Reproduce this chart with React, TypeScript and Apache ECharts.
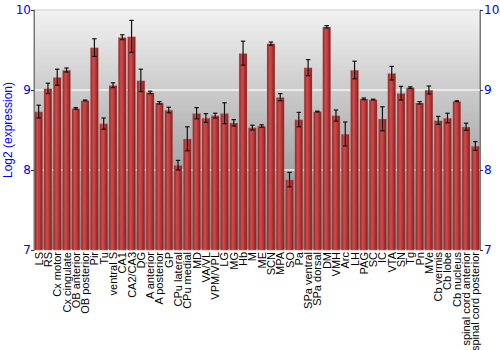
import React, { useEffect, useRef } from "react";
import * as echarts from "echarts";

const categories = [
  "LS", "RS", "Cx motor", "Cx cingulate", "OB anterior", "OB posterior", "Pir", "Tu",
  "ventral S", "CA1", "CA2/CA3", "DG", "A anterior", "A posterior", "GP", "CPu lateral",
  "CPu medial", "MD", "VA/VL", "VPM/VPL", "LG", "MG", "Hb", "M", "ME", "SCN", "MPA",
  "SO", "Pa", "SPa ventral", "SPa dorsal", "DM", "VMH", "Arc", "LH", "PAG", "SC", "IC",
  "VTA", "SN", "Tg", "Pn", "MVe", "Cb vermis", "Cb lobe", "Cb nucleus",
  "spinal cord anterior", "spinal cord posterior",
];

const values = [
  8.73, 9.02, 9.16, 9.25, 8.77, 8.87, 9.53, 8.58,
  9.06, 9.66, 9.67, 9.12, 8.97, 8.84, 8.75, 8.06,
  8.39, 8.71, 8.65, 8.68, 8.71, 8.59, 9.46, 8.53, 8.55, 9.58, 8.91,
  7.88, 8.63, 9.28, 8.73, 9.79, 8.68, 8.45, 9.25, 8.89, 8.88, 8.64,
  9.21, 8.96, 9.03, 8.84, 9.0, 8.62, 8.65, 8.86,
  8.54, 8.3,
];

const errors = [
  0.08, 0.065, 0.1, 0.025, 0.01, 0.005, 0.11, 0.07,
  0.03, 0.03, 0.2, 0.14, 0.015, 0.015, 0.035, 0.06,
  0.15, 0.07, 0.055, 0.03, 0.13, 0.04, 0.15, 0.03, 0.015, 0.02, 0.045,
  0.09, 0.09, 0.1, 0.005, 0.015, 0.07, 0.15, 0.11, 0.01, 0.005, 0.15,
  0.085, 0.085, 0.01, 0.015, 0.05, 0.05, 0.06, 0.005,
  0.045, 0.055,
];

const yTicks = { min: 7, max: 10, interval: 1 };

export default function App() {
  const ref = useRef<HTMLDivElement>(null);

  useEffect(() => {
    if (!ref.current) return;
    const chart = echarts.init(ref.current, undefined, { renderer: "svg" });
    const errData = values.map((v, i) => [i, v - errors[i], v + errors[i]]);
    const axisLabelStyle = { color: "#0000ff", fontSize: 12, fontFamily: "DejaVu Sans" };
    chart.setOption({
      animation: false,
      grid: {
        left: 34,
        right: 20,
        top: 10,
        bottom: 100,
        containLabel: false,
        outerBoundsMode: "none",
        show: true,
        borderColor: "#777",
        borderWidth: 1,
        backgroundColor: new echarts.graphic.LinearGradient(0, 0, 0, 1, [
          { offset: 0, color: "#f2f2f2" },
          { offset: 1, color: "#7e7e7e" },
        ]),
      },
      xAxis: {
        type: "category",
        data: categories,
        axisLine: { show: false },
        axisTick: { show: false },
        axisLabel: {
          interval: 0,
          rotate: 90,
          fontSize: 11,
          color: "#000",
          margin: 2,
          fontFamily: "Liberation Sans",
        },
      },
      yAxis: [
        {
          type: "value",
          ...yTicks,
          position: "left",
          name: "Log2 (expression)",
          nameLocation: "middle",
          nameGap: 20,
          nameMoveOverlap: false,
          nameTextStyle: { color: "#0000ff", fontSize: 12, fontFamily: "Liberation Sans" },
          axisLine: { show: true, lineStyle: { color: "#777" } },
          axisTick: { show: true, length: 3, lineStyle: { color: "#333" } },
          axisLabel: { ...axisLabelStyle, margin: 3 },
          splitLine: { show: true, lineStyle: { color: "rgba(255,255,255,0.8)", width: 1.5 } },
        },
        {
          type: "value",
          ...yTicks,
          position: "right",
          axisLine: { show: true, lineStyle: { color: "#777" } },
          axisTick: { show: true, length: 3, lineStyle: { color: "#333" } },
          axisLabel: { ...axisLabelStyle, margin: 4 },
          splitLine: { show: false },
        },
      ],
      series: [
        {
          type: "bar",
          data: values,
          barCategoryGap: "10%",
          itemStyle: {
            color: new echarts.graphic.LinearGradient(0, 0, 1, 0, [
              { offset: 0, color: "#8a2222" },
              { offset: 0.35, color: "#d04c4c" },
              { offset: 0.6, color: "#bc3c3c" },
              { offset: 1, color: "#7e1c1c" },
            ]),
            borderColor: "rgba(220,140,140,0.5)",
            borderWidth: 0.5,
          },
        },
        {
          type: "custom",
          data: errData,
          z: 10,
          renderItem: (params: any, api: any) => {
            const x = api.value(0);
            const lo = api.coord([x, api.value(1)]);
            const hi = api.coord([x, api.value(2)]);
            const cap = 2.2;
            const style = { stroke: "#111", lineWidth: 1.2 };
            return {
              type: "group",
              children: [
                { type: "line", shape: { x1: lo[0], y1: lo[1], x2: hi[0], y2: hi[1] }, style },
                { type: "line", shape: { x1: hi[0] - cap, y1: hi[1], x2: hi[0] + cap, y2: hi[1] }, style },
                { type: "line", shape: { x1: lo[0] - cap, y1: lo[1], x2: lo[0] + cap, y2: lo[1] }, style },
              ],
            };
          },
        },
      ],
    });
    return () => chart.dispose();
  }, []);

  return (
    <div
      ref={ref}
      style={{ position: "fixed", left: 0, top: 0, width: 500, height: 350, background: "#fff" }}
    />
  );
}
